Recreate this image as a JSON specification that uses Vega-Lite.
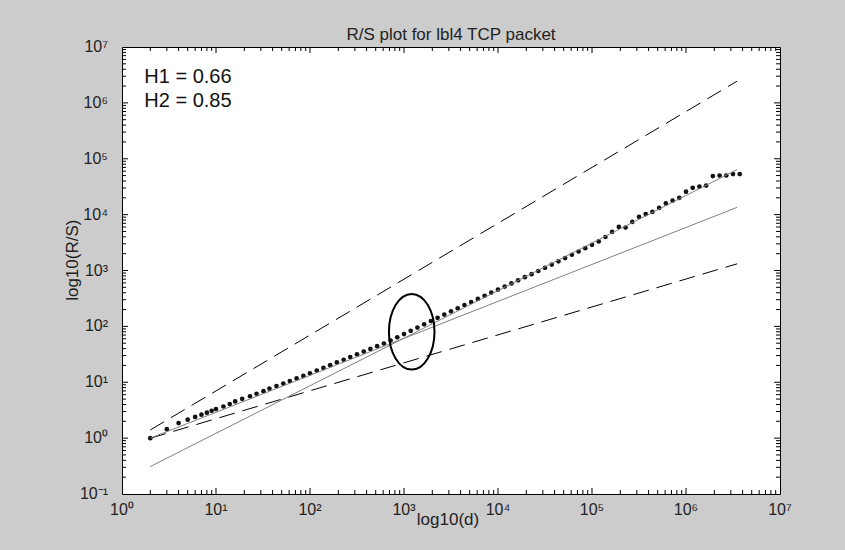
{
  "$schema": "https://vega.github.io/schema/vega-lite/v6.json",
  "width": 658,
  "height": 447,
  "autosize": {"type": "none"},
  "padding": {"left": 122, "top": 47, "right": 65, "bottom": 56},
  "background": "#cccccc",
  "config": {
    "view": {"fill": "white", "stroke": "black", "strokeWidth": 1}
  },
  "title": {
    "text": "R/S plot for lbl4 TCP packet",
    "font": "Liberation Sans",
    "fontSize": 17,
    "fontWeight": "normal",
    "color": "#222222",
    "anchor": "middle",
    "baseline": "alphabetic",
    "offset": 10,
    "dy": 28
  },
  "datasets": {
    "dots": [
      {"d": 2, "rs": 1.0}, {"d": 3, "rs": 1.445}, {"d": 4, "rs": 1.862}, {"d": 5, "rs": 2.138},
      {"d": 6, "rs": 2.399}, {"d": 7, "rs": 2.63}, {"d": 8, "rs": 2.851}, {"d": 9, "rs": 3.09},
      {"d": 10, "rs": 3.311}, {"d": 12, "rs": 3.681}, {"d": 14, "rs": 4.083}, {"d": 16, "rs": 4.539},
      {"d": 19, "rs": 5.047}, {"d": 23, "rs": 5.61}, {"d": 27, "rs": 6.223}, {"d": 32, "rs": 6.918},
      {"d": 37, "rs": 7.691}, {"d": 44, "rs": 8.531}, {"d": 52, "rs": 9.484}, {"d": 61, "rs": 10.54},
      {"d": 72, "rs": 11.72}, {"d": 85, "rs": 13.0},
      {"d": 100, "rs": 14.45}, {"d": 118, "rs": 16.18}, {"d": 139, "rs": 18.07}, {"d": 164, "rs": 20.23},
      {"d": 193, "rs": 22.6}, {"d": 228, "rs": 25.29}, {"d": 268, "rs": 28.25}, {"d": 316, "rs": 31.62},
      {"d": 373, "rs": 35.4}, {"d": 439, "rs": 39.54}, {"d": 518, "rs": 44.26}, {"d": 611, "rs": 49.43},
      {"d": 720, "rs": 55.71}, {"d": 848, "rs": 63.69},
      {"d": 1000, "rs": 72.78}, {"d": 1179, "rs": 83.18}, {"d": 1389, "rs": 95.28}, {"d": 1638, "rs": 108.9},
      {"d": 1931, "rs": 124.5}, {"d": 2276, "rs": 142.2}, {"d": 2683, "rs": 162.9}, {"d": 3162, "rs": 186.2},
      {"d": 3728, "rs": 211.3}, {"d": 4394, "rs": 240.4}, {"d": 5179, "rs": 272.9}, {"d": 6105, "rs": 310.5},
      {"d": 7197, "rs": 352.4}, {"d": 8483, "rs": 400.9},
      {"d": 10000, "rs": 455.0}, {"d": 11788, "rs": 516.4}, {"d": 13895, "rs": 587.5}, {"d": 16379, "rs": 666.8},
      {"d": 19307, "rs": 758.6}, {"d": 22758, "rs": 861.0}, {"d": 26827, "rs": 979.5}, {"d": 31623, "rs": 1117},
      {"d": 37276, "rs": 1276}, {"d": 43940, "rs": 1462}, {"d": 51795, "rs": 1671}, {"d": 61054, "rs": 1914},
      {"d": 71969, "rs": 2188}, {"d": 84834, "rs": 2506},
      {"d": 100000, "rs": 2884}, {"d": 117877, "rs": 3311}, {"d": 138950, "rs": 3981}, {"d": 163789, "rs": 4898},
      {"d": 193070, "rs": 6026}, {"d": 227585, "rs": 5888}, {"d": 268270, "rs": 7413}, {"d": 316228, "rs": 9120},
      {"d": 372759, "rs": 10230}, {"d": 439397, "rs": 11220}, {"d": 517947, "rs": 13180}, {"d": 610540, "rs": 15850},
      {"d": 719686, "rs": 17780}, {"d": 848343, "rs": 19950},
      {"d": 1000000, "rs": 25700}, {"d": 1178769, "rs": 30200}, {"d": 1389495, "rs": 31620}, {"d": 1637894, "rs": 33110},
      {"d": 1930698, "rs": 48980}, {"d": 2275846, "rs": 50120}, {"d": 2682696, "rs": 50120}, {"d": 3162278, "rs": 53090},
      {"d": 3727594, "rs": 53090}
    ],
    "upper": [{"d": 2, "rs": 1.4}, {"d": 3500000, "rs": 2450000}],
    "lower": [{"d": 2, "rs": 0.996}, {"d": 3500000, "rs": 1317}],
    "h1": [{"d": 2, "rs": 1.0}, {"d": 3500000, "rs": 13500}],
    "h2": [{"d": 2, "rs": 0.31}, {"d": 3500000, "rs": 64000}],
    "ellipse": [{"d": 1208, "rs": 80}],
    "labels": [
      {"d": 1.726, "rs": 2280000, "t": "H1 = 0.66"},
      {"d": 1.726, "rs": 834000, "t": "H2 = 0.85"}
    ],
    "xlabels": [
      {"v": 1, "t": "10⁰"}, {"v": 10, "t": "10¹"}, {"v": 100, "t": "10²"}, {"v": 1000, "t": "10³"},
      {"v": 10000, "t": "10⁴"}, {"v": 100000, "t": "10⁵"}, {"v": 1000000, "t": "10⁶"}, {"v": 10000000, "t": "10⁷"}
    ],
    "ylabels": [
      {"v": 0.1, "t": "10⁻¹"}, {"v": 1, "t": "10⁰"}, {"v": 10, "t": "10¹"}, {"v": 100, "t": "10²"}, {"v": 1000, "t": "10³"},
      {"v": 10000, "t": "10⁴"}, {"v": 100000, "t": "10⁵"}, {"v": 1000000, "t": "10⁶"}, {"v": 10000000, "t": "10⁷"}
    ],
    "xtitle": [{"d": 2938, "t": "log10(d)"}],
    "ytitle": [{"rs": 1528, "t": "log10(R/S)"}],
    "tbottom": [
      {"g":2,"x":2,"y":0.1},{"g":2,"x":2,"y":0.118},{"g":3,"x":3,"y":0.1},{"g":3,"x":3,"y":0.118},
      {"g":4,"x":4,"y":0.1},{"g":4,"x":4,"y":0.118},{"g":5,"x":5,"y":0.1},{"g":5,"x":5,"y":0.118},
      {"g":6,"x":6,"y":0.1},{"g":6,"x":6,"y":0.118},{"g":7,"x":7,"y":0.1},{"g":7,"x":7,"y":0.118},
      {"g":8,"x":8,"y":0.1},{"g":8,"x":8,"y":0.118},{"g":9,"x":9,"y":0.1},{"g":9,"x":9,"y":0.118},
      {"g":10,"x":10,"y":0.1},{"g":10,"x":10,"y":0.128},
      {"g":20,"x":20,"y":0.1},{"g":20,"x":20,"y":0.118},{"g":30,"x":30,"y":0.1},{"g":30,"x":30,"y":0.118},
      {"g":40,"x":40,"y":0.1},{"g":40,"x":40,"y":0.118},{"g":50,"x":50,"y":0.1},{"g":50,"x":50,"y":0.118},
      {"g":60,"x":60,"y":0.1},{"g":60,"x":60,"y":0.118},{"g":70,"x":70,"y":0.1},{"g":70,"x":70,"y":0.118},
      {"g":80,"x":80,"y":0.1},{"g":80,"x":80,"y":0.118},{"g":90,"x":90,"y":0.1},{"g":90,"x":90,"y":0.118},
      {"g":100,"x":100,"y":0.1},{"g":100,"x":100,"y":0.128},
      {"g":200,"x":200,"y":0.1},{"g":200,"x":200,"y":0.118},{"g":300,"x":300,"y":0.1},{"g":300,"x":300,"y":0.118},
      {"g":400,"x":400,"y":0.1},{"g":400,"x":400,"y":0.118},{"g":500,"x":500,"y":0.1},{"g":500,"x":500,"y":0.118},
      {"g":600,"x":600,"y":0.1},{"g":600,"x":600,"y":0.118},{"g":700,"x":700,"y":0.1},{"g":700,"x":700,"y":0.118},
      {"g":800,"x":800,"y":0.1},{"g":800,"x":800,"y":0.118},{"g":900,"x":900,"y":0.1},{"g":900,"x":900,"y":0.118},
      {"g":1000,"x":1000,"y":0.1},{"g":1000,"x":1000,"y":0.128},
      {"g":2000,"x":2000,"y":0.1},{"g":2000,"x":2000,"y":0.118},{"g":3000,"x":3000,"y":0.1},{"g":3000,"x":3000,"y":0.118},
      {"g":4000,"x":4000,"y":0.1},{"g":4000,"x":4000,"y":0.118},{"g":5000,"x":5000,"y":0.1},{"g":5000,"x":5000,"y":0.118},
      {"g":6000,"x":6000,"y":0.1},{"g":6000,"x":6000,"y":0.118},{"g":7000,"x":7000,"y":0.1},{"g":7000,"x":7000,"y":0.118},
      {"g":8000,"x":8000,"y":0.1},{"g":8000,"x":8000,"y":0.118},{"g":9000,"x":9000,"y":0.1},{"g":9000,"x":9000,"y":0.118},
      {"g":10000,"x":10000,"y":0.1},{"g":10000,"x":10000,"y":0.128},
      {"g":20000,"x":20000,"y":0.1},{"g":20000,"x":20000,"y":0.118},{"g":30000,"x":30000,"y":0.1},{"g":30000,"x":30000,"y":0.118},
      {"g":40000,"x":40000,"y":0.1},{"g":40000,"x":40000,"y":0.118},{"g":50000,"x":50000,"y":0.1},{"g":50000,"x":50000,"y":0.118},
      {"g":60000,"x":60000,"y":0.1},{"g":60000,"x":60000,"y":0.118},{"g":70000,"x":70000,"y":0.1},{"g":70000,"x":70000,"y":0.118},
      {"g":80000,"x":80000,"y":0.1},{"g":80000,"x":80000,"y":0.118},{"g":90000,"x":90000,"y":0.1},{"g":90000,"x":90000,"y":0.118},
      {"g":100000,"x":100000,"y":0.1},{"g":100000,"x":100000,"y":0.128},
      {"g":200000,"x":200000,"y":0.1},{"g":200000,"x":200000,"y":0.118},{"g":300000,"x":300000,"y":0.1},{"g":300000,"x":300000,"y":0.118},
      {"g":400000,"x":400000,"y":0.1},{"g":400000,"x":400000,"y":0.118},{"g":500000,"x":500000,"y":0.1},{"g":500000,"x":500000,"y":0.118},
      {"g":600000,"x":600000,"y":0.1},{"g":600000,"x":600000,"y":0.118},{"g":700000,"x":700000,"y":0.1},{"g":700000,"x":700000,"y":0.118},
      {"g":800000,"x":800000,"y":0.1},{"g":800000,"x":800000,"y":0.118},{"g":900000,"x":900000,"y":0.1},{"g":900000,"x":900000,"y":0.118},
      {"g":1000000,"x":1000000,"y":0.1},{"g":1000000,"x":1000000,"y":0.128},
      {"g":2000000,"x":2000000,"y":0.1},{"g":2000000,"x":2000000,"y":0.118},{"g":3000000,"x":3000000,"y":0.1},{"g":3000000,"x":3000000,"y":0.118},
      {"g":4000000,"x":4000000,"y":0.1},{"g":4000000,"x":4000000,"y":0.118},{"g":5000000,"x":5000000,"y":0.1},{"g":5000000,"x":5000000,"y":0.118},
      {"g":6000000,"x":6000000,"y":0.1},{"g":6000000,"x":6000000,"y":0.118},{"g":7000000,"x":7000000,"y":0.1},{"g":7000000,"x":7000000,"y":0.118},
      {"g":8000000,"x":8000000,"y":0.1},{"g":8000000,"x":8000000,"y":0.118},{"g":9000000,"x":9000000,"y":0.1},{"g":9000000,"x":9000000,"y":0.118}
    ],
    "ttop": [
      {"g":2,"x":2,"y":10000000},{"g":2,"x":2,"y":8480000},{"g":3,"x":3,"y":10000000},{"g":3,"x":3,"y":8480000},
      {"g":4,"x":4,"y":10000000},{"g":4,"x":4,"y":8480000},{"g":5,"x":5,"y":10000000},{"g":5,"x":5,"y":8480000},
      {"g":6,"x":6,"y":10000000},{"g":6,"x":6,"y":8480000},{"g":7,"x":7,"y":10000000},{"g":7,"x":7,"y":8480000},
      {"g":8,"x":8,"y":10000000},{"g":8,"x":8,"y":8480000},{"g":9,"x":9,"y":10000000},{"g":9,"x":9,"y":8480000},
      {"g":10,"x":10,"y":10000000},{"g":10,"x":10,"y":7810000},
      {"g":20,"x":20,"y":10000000},{"g":20,"x":20,"y":8480000},{"g":30,"x":30,"y":10000000},{"g":30,"x":30,"y":8480000},
      {"g":40,"x":40,"y":10000000},{"g":40,"x":40,"y":8480000},{"g":50,"x":50,"y":10000000},{"g":50,"x":50,"y":8480000},
      {"g":60,"x":60,"y":10000000},{"g":60,"x":60,"y":8480000},{"g":70,"x":70,"y":10000000},{"g":70,"x":70,"y":8480000},
      {"g":80,"x":80,"y":10000000},{"g":80,"x":80,"y":8480000},{"g":90,"x":90,"y":10000000},{"g":90,"x":90,"y":8480000},
      {"g":100,"x":100,"y":10000000},{"g":100,"x":100,"y":7810000},
      {"g":200,"x":200,"y":10000000},{"g":200,"x":200,"y":8480000},{"g":300,"x":300,"y":10000000},{"g":300,"x":300,"y":8480000},
      {"g":400,"x":400,"y":10000000},{"g":400,"x":400,"y":8480000},{"g":500,"x":500,"y":10000000},{"g":500,"x":500,"y":8480000},
      {"g":600,"x":600,"y":10000000},{"g":600,"x":600,"y":8480000},{"g":700,"x":700,"y":10000000},{"g":700,"x":700,"y":8480000},
      {"g":800,"x":800,"y":10000000},{"g":800,"x":800,"y":8480000},{"g":900,"x":900,"y":10000000},{"g":900,"x":900,"y":8480000},
      {"g":1000,"x":1000,"y":10000000},{"g":1000,"x":1000,"y":7810000},
      {"g":2000,"x":2000,"y":10000000},{"g":2000,"x":2000,"y":8480000},{"g":3000,"x":3000,"y":10000000},{"g":3000,"x":3000,"y":8480000},
      {"g":4000,"x":4000,"y":10000000},{"g":4000,"x":4000,"y":8480000},{"g":5000,"x":5000,"y":10000000},{"g":5000,"x":5000,"y":8480000},
      {"g":6000,"x":6000,"y":10000000},{"g":6000,"x":6000,"y":8480000},{"g":7000,"x":7000,"y":10000000},{"g":7000,"x":7000,"y":8480000},
      {"g":8000,"x":8000,"y":10000000},{"g":8000,"x":8000,"y":8480000},{"g":9000,"x":9000,"y":10000000},{"g":9000,"x":9000,"y":8480000},
      {"g":10000,"x":10000,"y":10000000},{"g":10000,"x":10000,"y":7810000},
      {"g":20000,"x":20000,"y":10000000},{"g":20000,"x":20000,"y":8480000},{"g":30000,"x":30000,"y":10000000},{"g":30000,"x":30000,"y":8480000},
      {"g":40000,"x":40000,"y":10000000},{"g":40000,"x":40000,"y":8480000},{"g":50000,"x":50000,"y":10000000},{"g":50000,"x":50000,"y":8480000},
      {"g":60000,"x":60000,"y":10000000},{"g":60000,"x":60000,"y":8480000},{"g":70000,"x":70000,"y":10000000},{"g":70000,"x":70000,"y":8480000},
      {"g":80000,"x":80000,"y":10000000},{"g":80000,"x":80000,"y":8480000},{"g":90000,"x":90000,"y":10000000},{"g":90000,"x":90000,"y":8480000},
      {"g":100000,"x":100000,"y":10000000},{"g":100000,"x":100000,"y":7810000},
      {"g":200000,"x":200000,"y":10000000},{"g":200000,"x":200000,"y":8480000},{"g":300000,"x":300000,"y":10000000},{"g":300000,"x":300000,"y":8480000},
      {"g":400000,"x":400000,"y":10000000},{"g":400000,"x":400000,"y":8480000},{"g":500000,"x":500000,"y":10000000},{"g":500000,"x":500000,"y":8480000},
      {"g":600000,"x":600000,"y":10000000},{"g":600000,"x":600000,"y":8480000},{"g":700000,"x":700000,"y":10000000},{"g":700000,"x":700000,"y":8480000},
      {"g":800000,"x":800000,"y":10000000},{"g":800000,"x":800000,"y":8480000},{"g":900000,"x":900000,"y":10000000},{"g":900000,"x":900000,"y":8480000},
      {"g":1000000,"x":1000000,"y":10000000},{"g":1000000,"x":1000000,"y":7810000},
      {"g":2000000,"x":2000000,"y":10000000},{"g":2000000,"x":2000000,"y":8480000},{"g":3000000,"x":3000000,"y":10000000},{"g":3000000,"x":3000000,"y":8480000},
      {"g":4000000,"x":4000000,"y":10000000},{"g":4000000,"x":4000000,"y":8480000},{"g":5000000,"x":5000000,"y":10000000},{"g":5000000,"x":5000000,"y":8480000},
      {"g":6000000,"x":6000000,"y":10000000},{"g":6000000,"x":6000000,"y":8480000},{"g":7000000,"x":7000000,"y":10000000},{"g":7000000,"x":7000000,"y":8480000},
      {"g":8000000,"x":8000000,"y":10000000},{"g":8000000,"x":8000000,"y":8480000},{"g":9000000,"x":9000000,"y":10000000},{"g":9000000,"x":9000000,"y":8480000}
    ],
    "tleft": [
      {"g":0.2,"x":1,"y":0.2},{"g":0.2,"x":1.103,"y":0.2},{"g":0.3,"x":1,"y":0.3},{"g":0.3,"x":1.103,"y":0.3},
      {"g":0.4,"x":1,"y":0.4},{"g":0.4,"x":1.103,"y":0.4},{"g":0.5,"x":1,"y":0.5},{"g":0.5,"x":1.103,"y":0.5},
      {"g":0.6,"x":1,"y":0.6},{"g":0.6,"x":1.103,"y":0.6},{"g":0.7,"x":1,"y":0.7},{"g":0.7,"x":1.103,"y":0.7},
      {"g":0.8,"x":1,"y":0.8},{"g":0.8,"x":1.103,"y":0.8},{"g":0.9,"x":1,"y":0.9},{"g":0.9,"x":1.103,"y":0.9},
      {"g":1,"x":1,"y":1},{"g":1,"x":1.158,"y":1},
      {"g":2,"x":1,"y":2},{"g":2,"x":1.103,"y":2},{"g":3,"x":1,"y":3},{"g":3,"x":1.103,"y":3},
      {"g":4,"x":1,"y":4},{"g":4,"x":1.103,"y":4},{"g":5,"x":1,"y":5},{"g":5,"x":1.103,"y":5},
      {"g":6,"x":1,"y":6},{"g":6,"x":1.103,"y":6},{"g":7,"x":1,"y":7},{"g":7,"x":1.103,"y":7},
      {"g":8,"x":1,"y":8},{"g":8,"x":1.103,"y":8},{"g":9,"x":1,"y":9},{"g":9,"x":1.103,"y":9},
      {"g":10,"x":1,"y":10},{"g":10,"x":1.158,"y":10},
      {"g":20,"x":1,"y":20},{"g":20,"x":1.103,"y":20},{"g":30,"x":1,"y":30},{"g":30,"x":1.103,"y":30},
      {"g":40,"x":1,"y":40},{"g":40,"x":1.103,"y":40},{"g":50,"x":1,"y":50},{"g":50,"x":1.103,"y":50},
      {"g":60,"x":1,"y":60},{"g":60,"x":1.103,"y":60},{"g":70,"x":1,"y":70},{"g":70,"x":1.103,"y":70},
      {"g":80,"x":1,"y":80},{"g":80,"x":1.103,"y":80},{"g":90,"x":1,"y":90},{"g":90,"x":1.103,"y":90},
      {"g":100,"x":1,"y":100},{"g":100,"x":1.158,"y":100},
      {"g":200,"x":1,"y":200},{"g":200,"x":1.103,"y":200},{"g":300,"x":1,"y":300},{"g":300,"x":1.103,"y":300},
      {"g":400,"x":1,"y":400},{"g":400,"x":1.103,"y":400},{"g":500,"x":1,"y":500},{"g":500,"x":1.103,"y":500},
      {"g":600,"x":1,"y":600},{"g":600,"x":1.103,"y":600},{"g":700,"x":1,"y":700},{"g":700,"x":1.103,"y":700},
      {"g":800,"x":1,"y":800},{"g":800,"x":1.103,"y":800},{"g":900,"x":1,"y":900},{"g":900,"x":1.103,"y":900},
      {"g":1000,"x":1,"y":1000},{"g":1000,"x":1.158,"y":1000},
      {"g":2000,"x":1,"y":2000},{"g":2000,"x":1.103,"y":2000},{"g":3000,"x":1,"y":3000},{"g":3000,"x":1.103,"y":3000},
      {"g":4000,"x":1,"y":4000},{"g":4000,"x":1.103,"y":4000},{"g":5000,"x":1,"y":5000},{"g":5000,"x":1.103,"y":5000},
      {"g":6000,"x":1,"y":6000},{"g":6000,"x":1.103,"y":6000},{"g":7000,"x":1,"y":7000},{"g":7000,"x":1.103,"y":7000},
      {"g":8000,"x":1,"y":8000},{"g":8000,"x":1.103,"y":8000},{"g":9000,"x":1,"y":9000},{"g":9000,"x":1.103,"y":9000},
      {"g":10000,"x":1,"y":10000},{"g":10000,"x":1.158,"y":10000},
      {"g":20000,"x":1,"y":20000},{"g":20000,"x":1.103,"y":20000},{"g":30000,"x":1,"y":30000},{"g":30000,"x":1.103,"y":30000},
      {"g":40000,"x":1,"y":40000},{"g":40000,"x":1.103,"y":40000},{"g":50000,"x":1,"y":50000},{"g":50000,"x":1.103,"y":50000},
      {"g":60000,"x":1,"y":60000},{"g":60000,"x":1.103,"y":60000},{"g":70000,"x":1,"y":70000},{"g":70000,"x":1.103,"y":70000},
      {"g":80000,"x":1,"y":80000},{"g":80000,"x":1.103,"y":80000},{"g":90000,"x":1,"y":90000},{"g":90000,"x":1.103,"y":90000},
      {"g":100000,"x":1,"y":100000},{"g":100000,"x":1.158,"y":100000},
      {"g":200000,"x":1,"y":200000},{"g":200000,"x":1.103,"y":200000},{"g":300000,"x":1,"y":300000},{"g":300000,"x":1.103,"y":300000},
      {"g":400000,"x":1,"y":400000},{"g":400000,"x":1.103,"y":400000},{"g":500000,"x":1,"y":500000},{"g":500000,"x":1.103,"y":500000},
      {"g":600000,"x":1,"y":600000},{"g":600000,"x":1.103,"y":600000},{"g":700000,"x":1,"y":700000},{"g":700000,"x":1.103,"y":700000},
      {"g":800000,"x":1,"y":800000},{"g":800000,"x":1.103,"y":800000},{"g":900000,"x":1,"y":900000},{"g":900000,"x":1.103,"y":900000},
      {"g":1000000,"x":1,"y":1000000},{"g":1000000,"x":1.158,"y":1000000},
      {"g":2000000,"x":1,"y":2000000},{"g":2000000,"x":1.103,"y":2000000},{"g":3000000,"x":1,"y":3000000},{"g":3000000,"x":1.103,"y":3000000},
      {"g":4000000,"x":1,"y":4000000},{"g":4000000,"x":1.103,"y":4000000},{"g":5000000,"x":1,"y":5000000},{"g":5000000,"x":1.103,"y":5000000},
      {"g":6000000,"x":1,"y":6000000},{"g":6000000,"x":1.103,"y":6000000},{"g":7000000,"x":1,"y":7000000},{"g":7000000,"x":1.103,"y":7000000},
      {"g":8000000,"x":1,"y":8000000},{"g":8000000,"x":1.103,"y":8000000},{"g":9000000,"x":1,"y":9000000},{"g":9000000,"x":1.103,"y":9000000}
    ],
    "tright": [
      {"g":0.2,"x":10000000,"y":0.2},{"g":0.2,"x":9070000,"y":0.2},{"g":0.3,"x":10000000,"y":0.3},{"g":0.3,"x":9070000,"y":0.3},
      {"g":0.4,"x":10000000,"y":0.4},{"g":0.4,"x":9070000,"y":0.4},{"g":0.5,"x":10000000,"y":0.5},{"g":0.5,"x":9070000,"y":0.5},
      {"g":0.6,"x":10000000,"y":0.6},{"g":0.6,"x":9070000,"y":0.6},{"g":0.7,"x":10000000,"y":0.7},{"g":0.7,"x":9070000,"y":0.7},
      {"g":0.8,"x":10000000,"y":0.8},{"g":0.8,"x":9070000,"y":0.8},{"g":0.9,"x":10000000,"y":0.9},{"g":0.9,"x":9070000,"y":0.9},
      {"g":1,"x":10000000,"y":1},{"g":1,"x":8640000,"y":1},
      {"g":2,"x":10000000,"y":2},{"g":2,"x":9070000,"y":2},{"g":3,"x":10000000,"y":3},{"g":3,"x":9070000,"y":3},
      {"g":4,"x":10000000,"y":4},{"g":4,"x":9070000,"y":4},{"g":5,"x":10000000,"y":5},{"g":5,"x":9070000,"y":5},
      {"g":6,"x":10000000,"y":6},{"g":6,"x":9070000,"y":6},{"g":7,"x":10000000,"y":7},{"g":7,"x":9070000,"y":7},
      {"g":8,"x":10000000,"y":8},{"g":8,"x":9070000,"y":8},{"g":9,"x":10000000,"y":9},{"g":9,"x":9070000,"y":9},
      {"g":10,"x":10000000,"y":10},{"g":10,"x":8640000,"y":10},
      {"g":20,"x":10000000,"y":20},{"g":20,"x":9070000,"y":20},{"g":30,"x":10000000,"y":30},{"g":30,"x":9070000,"y":30},
      {"g":40,"x":10000000,"y":40},{"g":40,"x":9070000,"y":40},{"g":50,"x":10000000,"y":50},{"g":50,"x":9070000,"y":50},
      {"g":60,"x":10000000,"y":60},{"g":60,"x":9070000,"y":60},{"g":70,"x":10000000,"y":70},{"g":70,"x":9070000,"y":70},
      {"g":80,"x":10000000,"y":80},{"g":80,"x":9070000,"y":80},{"g":90,"x":10000000,"y":90},{"g":90,"x":9070000,"y":90},
      {"g":100,"x":10000000,"y":100},{"g":100,"x":8640000,"y":100},
      {"g":200,"x":10000000,"y":200},{"g":200,"x":9070000,"y":200},{"g":300,"x":10000000,"y":300},{"g":300,"x":9070000,"y":300},
      {"g":400,"x":10000000,"y":400},{"g":400,"x":9070000,"y":400},{"g":500,"x":10000000,"y":500},{"g":500,"x":9070000,"y":500},
      {"g":600,"x":10000000,"y":600},{"g":600,"x":9070000,"y":600},{"g":700,"x":10000000,"y":700},{"g":700,"x":9070000,"y":700},
      {"g":800,"x":10000000,"y":800},{"g":800,"x":9070000,"y":800},{"g":900,"x":10000000,"y":900},{"g":900,"x":9070000,"y":900},
      {"g":1000,"x":10000000,"y":1000},{"g":1000,"x":8640000,"y":1000},
      {"g":2000,"x":10000000,"y":2000},{"g":2000,"x":9070000,"y":2000},{"g":3000,"x":10000000,"y":3000},{"g":3000,"x":9070000,"y":3000},
      {"g":4000,"x":10000000,"y":4000},{"g":4000,"x":9070000,"y":4000},{"g":5000,"x":10000000,"y":5000},{"g":5000,"x":9070000,"y":5000},
      {"g":6000,"x":10000000,"y":6000},{"g":6000,"x":9070000,"y":6000},{"g":7000,"x":10000000,"y":7000},{"g":7000,"x":9070000,"y":7000},
      {"g":8000,"x":10000000,"y":8000},{"g":8000,"x":9070000,"y":8000},{"g":9000,"x":10000000,"y":9000},{"g":9000,"x":9070000,"y":9000},
      {"g":10000,"x":10000000,"y":10000},{"g":10000,"x":8640000,"y":10000},
      {"g":20000,"x":10000000,"y":20000},{"g":20000,"x":9070000,"y":20000},{"g":30000,"x":10000000,"y":30000},{"g":30000,"x":9070000,"y":30000},
      {"g":40000,"x":10000000,"y":40000},{"g":40000,"x":9070000,"y":40000},{"g":50000,"x":10000000,"y":50000},{"g":50000,"x":9070000,"y":50000},
      {"g":60000,"x":10000000,"y":60000},{"g":60000,"x":9070000,"y":60000},{"g":70000,"x":10000000,"y":70000},{"g":70000,"x":9070000,"y":70000},
      {"g":80000,"x":10000000,"y":80000},{"g":80000,"x":9070000,"y":80000},{"g":90000,"x":10000000,"y":90000},{"g":90000,"x":9070000,"y":90000},
      {"g":100000,"x":10000000,"y":100000},{"g":100000,"x":8640000,"y":100000},
      {"g":200000,"x":10000000,"y":200000},{"g":200000,"x":9070000,"y":200000},{"g":300000,"x":10000000,"y":300000},{"g":300000,"x":9070000,"y":300000},
      {"g":400000,"x":10000000,"y":400000},{"g":400000,"x":9070000,"y":400000},{"g":500000,"x":10000000,"y":500000},{"g":500000,"x":9070000,"y":500000},
      {"g":600000,"x":10000000,"y":600000},{"g":600000,"x":9070000,"y":600000},{"g":700000,"x":10000000,"y":700000},{"g":700000,"x":9070000,"y":700000},
      {"g":800000,"x":10000000,"y":800000},{"g":800000,"x":9070000,"y":800000},{"g":900000,"x":10000000,"y":900000},{"g":900000,"x":9070000,"y":900000},
      {"g":1000000,"x":10000000,"y":1000000},{"g":1000000,"x":8640000,"y":1000000},
      {"g":2000000,"x":10000000,"y":2000000},{"g":2000000,"x":9070000,"y":2000000},{"g":3000000,"x":10000000,"y":3000000},{"g":3000000,"x":9070000,"y":3000000},
      {"g":4000000,"x":10000000,"y":4000000},{"g":4000000,"x":9070000,"y":4000000},{"g":5000000,"x":10000000,"y":5000000},{"g":5000000,"x":9070000,"y":5000000},
      {"g":6000000,"x":10000000,"y":6000000},{"g":6000000,"x":9070000,"y":6000000},{"g":7000000,"x":10000000,"y":7000000},{"g":7000000,"x":9070000,"y":7000000},
      {"g":8000000,"x":10000000,"y":8000000},{"g":8000000,"x":9070000,"y":8000000},{"g":9000000,"x":10000000,"y":9000000},{"g":9000000,"x":9070000,"y":9000000}
    ]
  },
  "layer": [
    {
      "data": {"name": "dots"},
      "mark": {"type": "point", "filled": true, "size": 22, "color": "#111111", "opacity": 1},
      "encoding": {
        "x": {"field": "d", "type": "quantitative", "axis": null,
              "scale": {"type": "log", "domain": [1, 10000000], "nice": false}},
        "y": {"field": "rs", "type": "quantitative", "axis": null,
              "scale": {"type": "log", "domain": [0.1, 10000000], "nice": false}}
      }
    },
    {
      "data": {"name": "upper"},
      "mark": {"type": "line", "color": "black", "strokeWidth": 1, "strokeDash": [16, 8]},
      "encoding": {
        "x": {"field": "d", "type": "quantitative", "axis": null},
        "y": {"field": "rs", "type": "quantitative", "axis": null}
      }
    },
    {
      "data": {"name": "lower"},
      "mark": {"type": "line", "color": "black", "strokeWidth": 1, "strokeDash": [16, 8]},
      "encoding": {
        "x": {"field": "d", "type": "quantitative", "axis": null},
        "y": {"field": "rs", "type": "quantitative", "axis": null}
      }
    },
    {
      "data": {"name": "h1"},
      "mark": {"type": "line", "color": "#808080", "strokeWidth": 1},
      "encoding": {
        "x": {"field": "d", "type": "quantitative", "axis": null},
        "y": {"field": "rs", "type": "quantitative", "axis": null}
      }
    },
    {
      "data": {"name": "h2"},
      "mark": {"type": "line", "color": "#808080", "strokeWidth": 1},
      "encoding": {
        "x": {"field": "d", "type": "quantitative", "axis": null},
        "y": {"field": "rs", "type": "quantitative", "axis": null}
      }
    },
    {
      "data": {"name": "ellipse"},
      "mark": {
        "type": "point", "filled": false, "color": "black", "strokeWidth": 2, "opacity": 1,
        "shape": "M-0.603,0A0.603,1,0,1,1,0.603,0A0.603,1,0,1,1,-0.603,0Z",
        "size": 5715
      },
      "encoding": {
        "x": {"field": "d", "type": "quantitative", "axis": null},
        "y": {"field": "rs", "type": "quantitative", "axis": null}
      }
    },
    {
      "data": {"name": "labels"},
      "mark": {"type": "text", "align": "left", "baseline": "alphabetic", "font": "Liberation Sans", "fontSize": 20, "color": "#111111"},
      "encoding": {
        "x": {"field": "d", "type": "quantitative", "axis": null},
        "y": {"field": "rs", "type": "quantitative", "axis": null},
        "text": {"field": "t"}
      }
    },
    {
      "data": {"name": "tbottom"},
      "mark": {"type": "line", "color": "black", "strokeWidth": 1},
      "encoding": {
        "x": {"field": "x", "type": "quantitative", "axis": null},
        "y": {"field": "y", "type": "quantitative", "axis": null},
        "detail": {"field": "g", "type": "nominal"}
      }
    },
    {
      "data": {"name": "ttop"},
      "mark": {"type": "line", "color": "black", "strokeWidth": 1},
      "encoding": {
        "x": {"field": "x", "type": "quantitative", "axis": null},
        "y": {"field": "y", "type": "quantitative", "axis": null},
        "detail": {"field": "g", "type": "nominal"}
      }
    },
    {
      "data": {"name": "tleft"},
      "mark": {"type": "line", "color": "black", "strokeWidth": 1},
      "encoding": {
        "x": {"field": "x", "type": "quantitative", "axis": null},
        "y": {"field": "y", "type": "quantitative", "axis": null},
        "detail": {"field": "g", "type": "nominal"}
      }
    },
    {
      "data": {"name": "tright"},
      "mark": {"type": "line", "color": "black", "strokeWidth": 1},
      "encoding": {
        "x": {"field": "x", "type": "quantitative", "axis": null},
        "y": {"field": "y", "type": "quantitative", "axis": null},
        "detail": {"field": "g", "type": "nominal"}
      }
    },
    {
      "data": {"name": "xlabels"},
      "mark": {"type": "text", "align": "center", "baseline": "top", "font": "Liberation Sans", "fontSize": 16, "color": "#222222", "yOffset": 8},
      "encoding": {
        "x": {"field": "v", "type": "quantitative", "axis": null},
        "y": {"datum": 0.1, "type": "quantitative", "axis": null},
        "text": {"field": "t"}
      }
    },
    {
      "data": {"name": "ylabels"},
      "mark": {"type": "text", "align": "right", "baseline": "middle", "font": "Liberation Sans", "fontSize": 16, "color": "#222222", "xOffset": -14},
      "encoding": {
        "y": {"field": "v", "type": "quantitative", "axis": null},
        "x": {"datum": 1, "type": "quantitative", "axis": null},
        "text": {"field": "t"}
      }
    },
    {
      "data": {"name": "xtitle"},
      "mark": {"type": "text", "align": "center", "baseline": "alphabetic", "font": "Liberation Sans", "fontSize": 17, "color": "#222222", "yOffset": 31},
      "encoding": {
        "x": {"field": "d", "type": "quantitative", "axis": null},
        "y": {"datum": 0.1, "type": "quantitative", "axis": null},
        "text": {"field": "t"}
      }
    },
    {
      "data": {"name": "ytitle"},
      "mark": {"type": "text", "align": "center", "baseline": "middle", "angle": 270, "font": "Liberation Sans", "fontSize": 17, "color": "#222222", "xOffset": -49},
      "encoding": {
        "y": {"field": "rs", "type": "quantitative", "axis": null},
        "x": {"datum": 1, "type": "quantitative", "axis": null},
        "text": {"field": "t"}
      }
    }
  ]
}
